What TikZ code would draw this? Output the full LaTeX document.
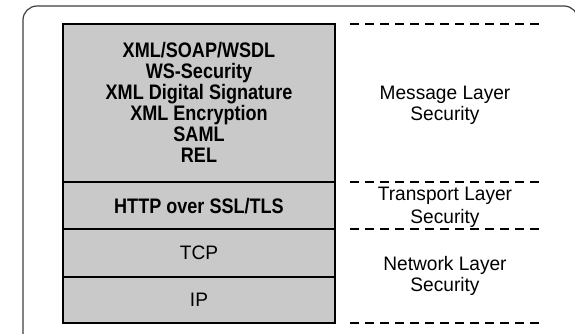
\documentclass[tikz,border=0pt]{standalone}
\usepackage{fontspec}
\setmainfont[FakeStretch=0.98]{Liberation Sans}
\newfontfamily\boldcond[FakeStretch=0.86]{Liberation Sans Bold}
\begin{document}
\begin{tikzpicture}[x=1pt,y=-1pt,
  layerbox/.style={draw=black, line width=2pt, fill=black!21},
  sep/.style={draw=black, line width=2.2pt, dash pattern=on 9pt off 6pt},
  boxtext/.style={font=\fontsize{21}{21}\boldcond, align=center, inner sep=0pt},
  sidetext/.style={font=\fontsize{19.5}{21}\selectfont, align=center, inner sep=0pt}]
  \useasboundingbox (0,0) rectangle (575,334);
  \fill[white] (0,0) rectangle (575,334);
  % outer frame
  \begin{scope}
    \clip (0,0) rectangle (575,334);
    \draw[black!75, line width=1.2pt, rounded corners=14pt] (23,6) rectangle (578,348);
  \end{scope}
  % protocol stack
  \path[layerbox] (63,24) rectangle (335,182);
  \path[layerbox] (63,182) rectangle (335,229);
  \path[layerbox] (63,229) rectangle (335,277);
  \path[layerbox] (63,277) rectangle (335,323);
  \node[boxtext] (msg) at (199,102.5) {XML/SOAP/WSDL\\WS-Security\\XML Digital Signature\\XML Encryption\\SAML\\REL};
  \node[boxtext] (http) at (199,206) {HTTP over SSL/TLS};
  \node[sidetext] (tcp) at (199,253) {TCP};
  \node[sidetext] (ip) at (199,300) {IP};
  % layer separators
  \coordinate (s1a) at (350,24);  \coordinate (s1b) at (542,24);
  \coordinate (s2a) at (350,182); \coordinate (s2b) at (542,182);
  \coordinate (s3a) at (350,229); \coordinate (s3b) at (542,229);
  \coordinate (s4a) at (350,323); \coordinate (s4b) at (542,323);
  \draw[sep] (s1a) -- (s1b);
  \draw[sep] (s2a) -- (s2b);
  \draw[sep] (s3a) -- (s3b);
  \draw[sep] (s4a) -- (s4b);
  % layer names
  \node[sidetext] (mls) at (445,105) {Message Layer\\Security};
  \node[sidetext, font=\fontsize{19.5}{23.5}\selectfont] (tls) at (445,207.5) {Transport Layer\\Security};
  \node[sidetext] (nls) at (445,275.5) {Network Layer\\Security};
\end{tikzpicture}
\end{document}
